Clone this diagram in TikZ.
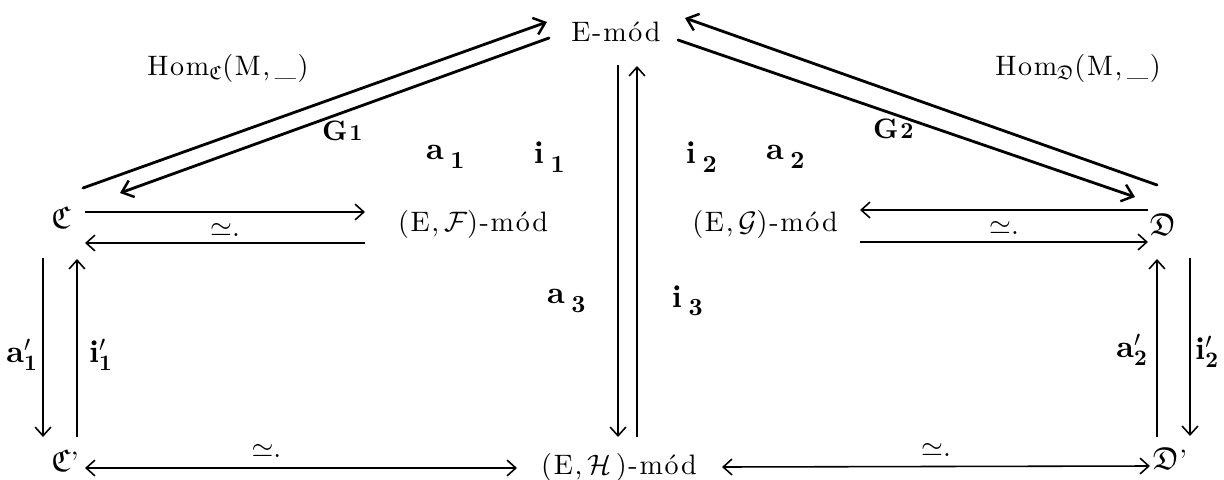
\RequirePackage{fix-cm}
\documentclass[tikz,border=0pt]{standalone}
\usepackage{amsmath,amssymb}
\usepackage{fontspec}
\setmainfont{lmroman10-regular.otf}[BoldFont=lmroman10-bold.otf,ItalicFont=lmroman10-italic.otf,LetterSpace=6]
\usepackage{tikz}
\usetikzlibrary{arrows.meta,calc}
\newcommand{\lab}[2]{{\fontsize{18}{20}\selectfont\textbf{#1}}\,\raisebox{-0.7ex}{\fontsize{14}{16}\selectfont\textbf{#2}}}
\newcommand{\labp}[2]{{\fontsize{18}{20}\selectfont$\mathbf{#1}'_{\mathbf{#2}}$}}
\newcommand{\cat}[1]{{\fontsize{18}{20}\selectfont$\mathfrak{#1}$}}

\begin{document}
\begin{tikzpicture}[x=0.02cm,y=-0.02cm,font=\fontsize{16}{18}\selectfont,
  map/.style={-{Straight Barb[length=5pt,width=9pt]},line width=0.9pt},
  iso/.style={{Straight Barb[length=5pt,width=9pt]}-{Straight Barb[length=5pt,width=9pt]},line width=0.9pt},
  heavy/.style={-{Straight Barb[length=6pt,width=10pt,line width=1.4pt]},line width=1.6pt,line cap=round}]
\useasboundingbox (0,0) rectangle (1224,480);
% objects
\node (E) at (616,32) {E-m\'od};
\node (C) at (61,218) {\cat{C}};
\node (F) at (473,224) {(E,\,$\mathcal{F}$)-m\'od};
\node (G) at (765,224) {(E,\,$\mathcal{G}$)-m\'od};
\node (D) at (1163,225) {\cat{D}};
\node (Cp) at (65,461) {\cat{C}'};
\node (H) at (619,467) {(E,\,$\mathcal{H}$\,)-m\'od};
\node (Dp) at (1170,459) {\cat{D}'};
% labels
\node (homC) at (228,68) {Hom$_{\mathfrak{C}}$(M,\,\_)};
\node (homD) at (1078,68) {Hom$_{\mathfrak{D}}$(M,\,\_)};
\node (g1) at (343,131) {\textbf{G}{\fontsize{13}{15}\selectfont\textbf{1}}};
\node (g2) at (894,129) {\textbf{G}{\fontsize{13}{15}\selectfont\textbf{2}}};
\node (a1) at (446,157) {\lab{a}{1}};
\node (i1) at (550,157) {\lab{i}{1}};
\node (i2) at (702,157) {\lab{i}{2}};
\node (a2) at (786,157) {\lab{a}{2}};
\node (a3) at (567,301) {\lab{a}{3}};
\node (i3) at (688,301) {\lab{i}{3}};
\node (a1p) at (22,355) {\labp{a}{1}};
\node (i1p) at (101,355) {\labp{i}{1}};
\node (a2p) at (1132,350) {\labp{a}{2}};
\node (i2p) at (1207,352) {\labp{i}{2}};
% top row
\draw[map] ($(C)+(24,-6)$) -- ($(F)+(-108,-12)$) node[midway,below=3pt]{$\simeq$.};
\draw[map] ($(F)+(-108,19)$) -- ($(C)+(24,25)$);
\draw[map] ($(D)+(-15,-15)$) -- ($(G)+(95,-14)$) node[midway,below=3pt]{$\simeq$.};
\draw[map] ($(G)+(95,18)$) -- ($(D)+(-15,17)$);
% verticals
\draw[map] ($(C)+(-18,40)$) -- ($(Cp)+(-22,-24)$);
\draw[map] ($(Cp)+(12,-24)$) -- ($(C)+(16,41)$);
\draw[map] ($(Dp)+(-13,-22)$) -- ($(D)+(-6,34)$);
\draw[map] ($(D)+(27,33)$) -- ($(Dp)+(20,-23)$);
\draw[map] ($(E)+(2,33)$) -- ($(H)+(-1,-30)$);
\draw[map] ($(H)+(18,-30)$) -- ($(E)+(21,34)$);
% bottom row
\draw[iso] ($(Cp)+(20,7)$) -- ($(H)+(-102,1)$) node[pos=0.42,above=2pt]{$\simeq$.};
\draw[iso] ($(H)+(103,0)$) -- ($(Dp)+(-20,7)$) node[pos=0.5,above=2pt]{$\simeq$.};
% diagonals
\draw[heavy] ($(C)+(22,-30)$) -- ($(E)+(-69,-10)$);
\draw[heavy] ($(E)+(-67,6)$) -- ($(C)+(59,-25)$);
\draw[heavy] ($(D)+(-6,-40)$) -- ($(E)+(69,-14)$);
\draw[heavy] ($(E)+(62,8)$) -- ($(D)+(-28,-28)$);
\end{tikzpicture}
\end{document}
